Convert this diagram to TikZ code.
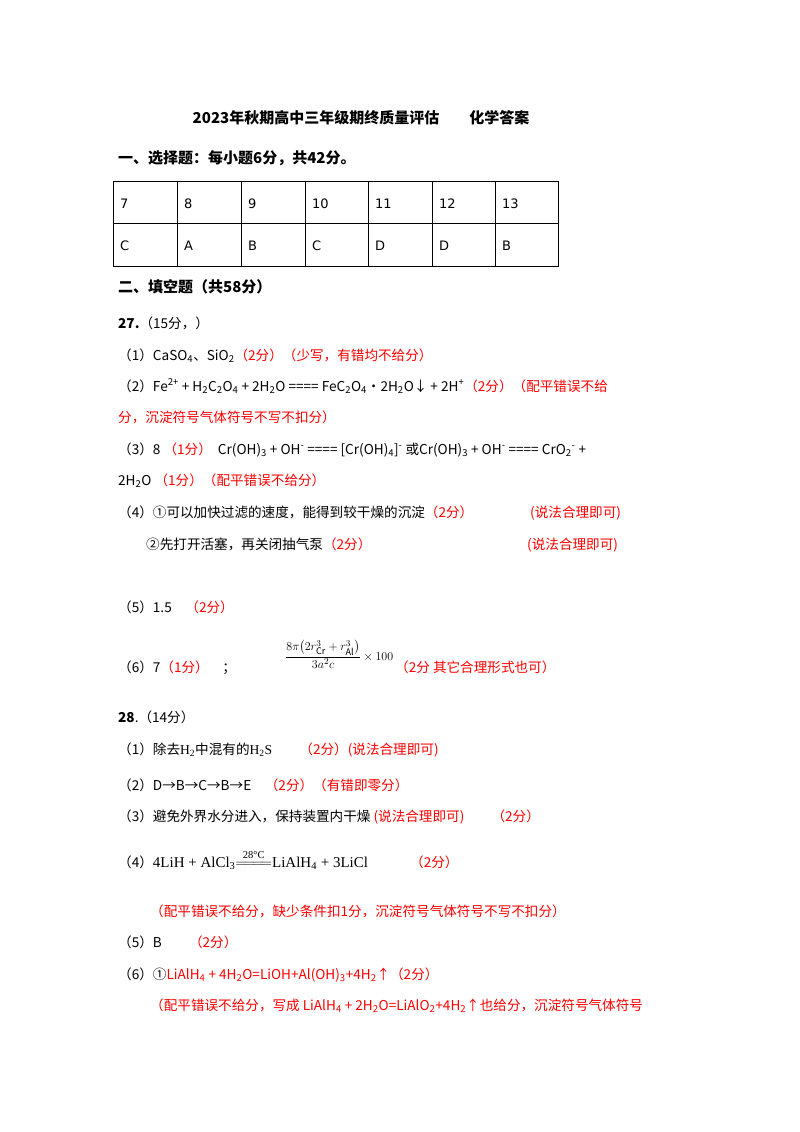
\documentclass[tikz,border=0pt]{standalone}
\usepackage{amsmath}
\usepackage{fontspec}
\setmainfont{Noto Sans CJK SC}
\newfontfamily\tm{Liberation Serif}
\newfontfamily\djv{DejaVu Sans}
\newcommand{\sbs}[1]{\textsubscript{#1}}
\newcommand{\sps}[1]{\textsuperscript{#1}}
\begin{document}
\begin{tikzpicture}[x=1pt,y=-1pt,
  t/.style={anchor=base west,inner sep=0pt,font=\fontsize{13.6}{15}\selectfont},
  r/.style={t,text=red},
  h/.style={t,font=\fontsize{15}{17}\selectfont\bfseries}]
\useasboundingbox (0,0) rectangle (800,1132);
\fill[white] (0,0) rectangle (800,1132);
\node[h,anchor=base] (title) at (361,123) {2023年秋期高中三年级期终质量评估\hspace{2em}化学答案};
\node[h] (s1) at (118,163) {一、选择题：每小题6分，共42分。};
% table
\draw (113,181) rectangle (558,266);
\draw (113,223) -- (558,223);
\foreach \x in {177,241,305,368,432,495} \draw (\x,181) -- (\x,266);
\foreach \n/\x/\a/\b in {1/113/7/C,2/177/8/A,3/241/9/B,4/305/10/C,5/368/11/D,6/432/12/D,7/495/13/B}{
  \node[t,font=\djv\fontsize{13}{15}\selectfont] (q\n) at (\x+7,208) {\a};
  \node[t,font=\djv\fontsize{13}{15}\selectfont] (a\n) at (\x+7,250) {\b};
}
\node[h] (s2) at (118,292) {二、填空题（共58分）};
\node[t] (p27) at (118,328) {\textbf{27.}（15分，）};
\node[t] (a1) at (118,360) {（1）CaSO\sbs{4}、SiO\sbs{2}\textcolor{red}{（2分）（少写，有错均不给分）}};
\node[t] (a2) at (118,391) {（2）Fe\sps{2+} + H\sbs{2}C\sbs{2}O\sbs{4} + 2H\sbs{2}O ==== FeC\sbs{2}O\sbs{4}·2H\sbs{2}O↓ + 2H\sps{+}\textcolor{red}{（2分）（配平错误不给}};
\node[r] (a2b) at (118,422) {分，沉淀符号气体符号不写不扣分）};
\node[t] (a3) at (118,454) {（3）8 \textcolor{red}{（1分）}\ \ Cr(OH)\sbs{3} + OH\sps{-} ==== [Cr(OH)\sbs{4}]\sps{-} 或Cr(OH)\sbs{3} + OH\sps{-} ==== CrO\sbs{2}\sps{-} +};
\node[t] (a3b) at (118,485) {2H\sbs{2}O \textcolor{red}{（1分）（配平错误不给分）}};
\node[t] (a4) at (118,517) {（4）①可以加快过滤的速度，能得到较干燥的沉淀\textcolor{red}{（2分）}};
\node[r] (a4r) at (530,517) {(说法合理即可)};
\node[t] (a4b) at (146,549) {②先打开活塞，再关闭抽气泵\textcolor{red}{（2分）}};
\node[r] (a4br) at (527,549) {(说法合理即可)};
\node[t] (a5) at (118,612) {（5）1.5\quad\textcolor{red}{（2分）}};
\node[t] (a6) at (118,672) {（6）7\textcolor{red}{（1分）}\quad ；};
\node[t,font=\tm\fontsize{13}{15}\selectfont] (frac) at (285,660) {$\displaystyle\frac{8\pi\bigl(2r_{\mathrm{Cr}}^3+r_{\mathrm{Al}}^3\bigr)}{3a^2c}\times100$};
\node[r] (a6r) at (395,672) {（2分\ 其它合理形式也可）};
\node[t] (p28) at (118,722) {\textbf{28}.（14分）};
\node[t] (b1) at (118,754) {（1）除去{\tm H\sbs{2}}中混有的{\tm H\sbs{2}S}\qquad\textcolor{red}{（2分）(说法合理即可)}};
\node[t] (b2) at (118,790) {（2）D→B→C→B→E\quad\textcolor{red}{（2分）（有错即零分）}};
\node[t] (b3) at (118,821) {（3）避免外界水分进入，保持装置内干燥\ \textcolor{red}{(说法合理即可)}\qquad\textcolor{red}{（2分）}};
\node[t] (b4) at (118,867) {（4）{\tm\fontsize{15}{17}\selectfont 4LiH + AlCl\sbs{3}$\overset{\text{28°C}}{=\!=\!=\!=}$LiAlH\sbs{4} + 3LiCl}};
\node[r] (b4r) at (410,867) {（2分）};
\node[r] (b4n) at (150,916) {（配平错误不给分，缺少条件扣1分，沉淀符号气体符号不写不扣分）};
\node[t] (b5) at (118,947) {（5）B\qquad\textcolor{red}{（2分）}};
\node[t] (b6) at (118,979) {（6）①\textcolor{red}{LiAlH\sbs{4} + 4H\sbs{2}O=LiOH+Al(OH)\sbs{3}+4H\sbs{2}↑（2分）}};
\node[r] (b6n) at (150,1010) {（配平错误不给分，写成 LiAlH\sbs{4} + 2H\sbs{2}O=LiAlO\sbs{2}+4H\sbs{2}↑也给分，沉淀符号气体符号};
\end{tikzpicture}
\end{document}
